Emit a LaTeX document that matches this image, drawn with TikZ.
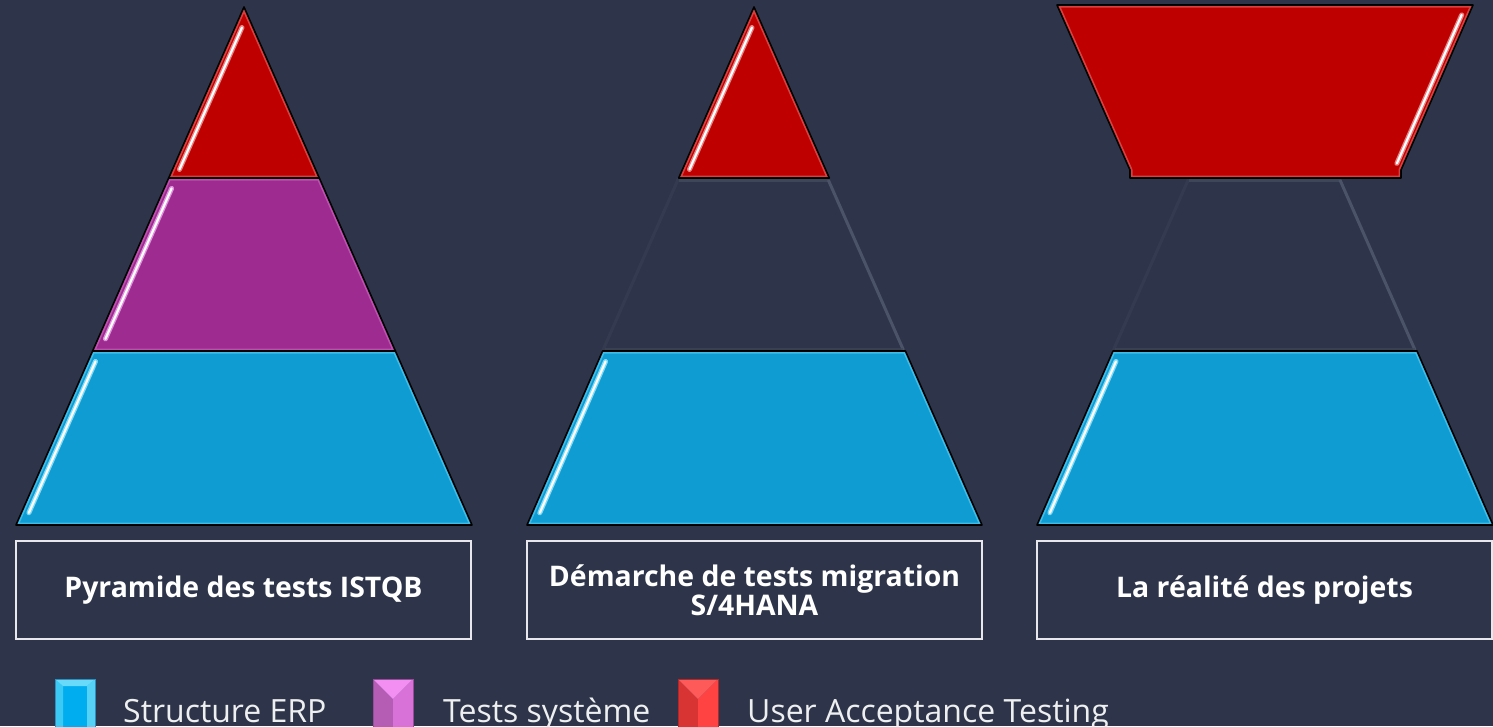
\documentclass[tikz,border=0pt]{standalone}
\usepackage{fontspec}
\setmainfont{Open Sans}
\usetikzlibrary{calc}

\definecolor{bg}{HTML}{2E354A}
\definecolor{erpfill}{HTML}{0E9CD3}
\definecolor{erprim}{HTML}{4CC4EE}
\definecolor{erpshine}{HTML}{9AEBFF}
\definecolor{sysfill}{HTML}{9E2B90}
\definecolor{sysrim}{HTML}{C65AB8}
\definecolor{sysshine}{HTML}{F0A8F0}
\definecolor{uatfill}{HTML}{BE0000}
\definecolor{uatrim}{HTML}{E25050}
\definecolor{uatshine}{HTML}{F5A0A0}
\definecolor{ghostedge}{HTML}{3E4659}
\definecolor{ghostlight}{HTML}{4B5368}
\definecolor{boxline}{HTML}{E8E8EC}
% legend block facets
\definecolor{bluemid}{HTML}{00AEEF}
\definecolor{blueleft}{HTML}{3CCAF4}
\definecolor{blueright}{HTML}{55D2F6}
\definecolor{bluetop}{HTML}{6ADAFA}
\definecolor{blueedge}{HTML}{2C8FC0}
\definecolor{purpleleft}{HTML}{B55CB5}
\definecolor{purpleright}{HTML}{D872D8}
\definecolor{purpletop}{HTML}{F38EF3}
\definecolor{purpleedge}{HTML}{9A4A9A}
\definecolor{redleft}{HTML}{D83434}
\definecolor{redright}{HTML}{FF4242}
\definecolor{redtop}{HTML}{FF5A5A}
\definecolor{rededge}{HTML}{B02828}

% glossy tier: fill, inner rim, dark outline
\newcommand\glosstier[3]{%
  \fill[#1] #3;
  \begin{scope}
    \clip #3;
    \draw[#2, line width=5pt, opacity=0.8, line join=round] #3;
  \end{scope}
  \draw[outline] #3;
}
% specular streak parallel to one edge: from, to, glow colour, x offset, start, end
\newcommand\shine[6]{%
  \draw[#3, line width=5pt, line cap=round, opacity=0.8]
    ($(#1)!#5!(#2)+(#4,0)$) -- ($(#1)!#6!(#2)+(#4,0)$);
  \draw[white, line width=2.2pt, line cap=round]
    ($(#1)!#5!(#2)+(#4,0)$) -- ($(#1)!#6!(#2)+(#4,0)$);
}

\tikzset{
  outline/.style={draw=black, line width=1.6pt, line join=round},
  ghost/.style={draw=ghostedge, line width=3pt},
  ghostbright/.style={draw=ghostlight, line width=3pt},
  labelbox/.style={draw=boxline, line width=1.6pt, minimum width=455pt,
    minimum height=98pt, inner sep=0pt, text=white, align=center,
    font=\bfseries\fontsize{28.4}{29}\selectfont},
  legendtext/.style={anchor=base west, inner sep=0pt, text=white!92!bg,
    font=\fontsize{32}{36}\selectfont},
}

\begin{document}
\begin{tikzpicture}[x=1pt,y=-1pt]
\useasboundingbox (0,0) rectangle (1493,726);
\clip (0,0) rectangle (1493,726);
\fill[bg] (0,0) rectangle (1493,726);

% ---------- pyramid 1 : ISTQB ----------
\coordinate (p1apex) at (244,7);
\coordinate (p1al) at (168.7,178); \coordinate (p1ar) at (319.3,178);
\coordinate (p1bl) at (92.6,351);  \coordinate (p1br) at (395.4,351);
\coordinate (p1cl) at (16,525);    \coordinate (p1cr) at (472,525);
\glosstier{erpfill}{erprim}{(p1bl) -- (p1cl) -- (p1cr) -- (p1br) -- cycle}
\glosstier{sysfill}{sysrim}{(p1al) -- (p1bl) -- (p1br) -- (p1ar) -- cycle}
\glosstier{uatfill}{uatrim}{(p1apex) -- (p1al) -- (p1ar) -- cycle}
\shine{p1bl}{p1cl}{erpshine}{7.5}{0.06}{0.93}
\shine{p1al}{p1bl}{sysshine}{7.5}{0.06}{0.93}
\shine{p1apex}{p1al}{uatshine}{7}{0.12}{0.95}

% ---------- pyramid 2 : S/4HANA ----------
\coordinate (p2apex) at (754,7);
\coordinate (p2al) at (678.7,178); \coordinate (p2ar) at (829.3,178);
\coordinate (p2bl) at (602.6,351); \coordinate (p2br) at (905.4,351);
\coordinate (p2cl) at (527,525);   \coordinate (p2cr) at (982,525);
\draw[ghost, opacity=0.4] (p2al) -- (p2bl);
\draw[ghost] ($(p2al)+(0,2)$) -- ($(p2ar)+(0,2)$);
\draw[ghostbright] ($(p2ar)+(-1,2)$) -- ($(p2br)+(-2,-1)$);
\draw[ghost, opacity=0.7] ($(p2bl)+(2,-2)$) -- ($(p2br)+(-2,-2)$);
\glosstier{erpfill}{erprim}{(p2bl) -- (p2cl) -- (p2cr) -- (p2br) -- cycle}
\glosstier{uatfill}{uatrim}{(p2apex) -- (p2al) -- (p2ar) -- cycle}
\shine{p2bl}{p2cl}{erpshine}{7.5}{0.06}{0.93}
\shine{p2apex}{p2al}{uatshine}{7}{0.12}{0.95}

% ---------- pyramid 3 : project reality ----------
\coordinate (p3tl) at (1057,5);  \coordinate (p3tr) at (1473,5);
\coordinate (p3sl) at (1130,170); \coordinate (p3sr) at (1401,170);
\coordinate (p3ul) at (1130,178); \coordinate (p3ur) at (1401,178);
\coordinate (p3al) at (1189,178); \coordinate (p3ar) at (1341,178);
\coordinate (p3bl) at (1113,351); \coordinate (p3br) at (1417,351);
\coordinate (p3cl) at (1037,525); \coordinate (p3cr) at (1493,525);
\draw[ghost, opacity=0.4] (p3al) -- (p3bl);
\draw[ghost] ($(p3al)+(0,2)$) -- ($(p3ar)+(0,2)$);
\draw[ghostbright] ($(p3ar)+(-1,2)$) -- ($(p3br)+(-2,-1)$);
\draw[ghost, opacity=0.7] ($(p3bl)+(2,-2)$) -- ($(p3br)+(-2,-2)$);
\glosstier{erpfill}{erprim}{(p3bl) -- (p3cl) -- (p3cr) -- (p3br) -- cycle}
\glosstier{uatfill}{uatrim}{(p3tl) -- (p3sl) -- (p3ul) -- (p3ur) -- (p3sr) -- (p3tr) -- cycle}
\shine{p3bl}{p3cl}{erpshine}{7.5}{0.06}{0.93}
\shine{p3tr}{p3sr}{uatshine}{-7}{0.06}{0.96}

% ---------- captions ----------
\node[labelbox] (cap1) at (243.5,590) {Pyramide des tests ISTQB};
\node[labelbox] (cap2) at (754.5,590) {Démarche de tests migration\\S/4HANA};
\node[labelbox] (cap3) at (1264.5,590) {La réalité des projets};

% ---------- legend ----------
% blue bevelled block
\fill[bluemid] (55,679) rectangle (95,740);
\fill[blueleft] (55,679) -- (63,686) -- (63,740) -- (55,740) -- cycle;
\fill[blueright] (95,679) -- (87,686) -- (87,740) -- (95,740) -- cycle;
\fill[bluetop] (55,679) -- (95,679) -- (87,686) -- (63,686) -- cycle;
\draw[blueedge, line width=0.8pt] (55,740) -- (55,679) -- (95,679) -- (95,740);
\node[legendtext] (leg1) at (123,722) {Structure ERP};
% purple bevelled block
\fill[purpleleft] (373,679) -- (393,699) -- (393,740) -- (373,740) -- cycle;
\fill[purpleright] (413,679) -- (393,699) -- (393,740) -- (413,740) -- cycle;
\fill[purpletop] (373,679) -- (413,679) -- (393,699) -- cycle;
\draw[purpleedge, line width=0.8pt] (373,740) -- (373,679) -- (413,679) -- (413,740);
\node[legendtext] (leg2) at (443,722) {Tests système};
% red bevelled block
\fill[redleft] (678,679) -- (698,699) -- (698,740) -- (678,740) -- cycle;
\fill[redright] (718,679) -- (698,699) -- (698,740) -- (718,740) -- cycle;
\fill[redtop] (678,679) -- (718,679) -- (698,699) -- cycle;
\draw[rededge, line width=0.8pt] (678,740) -- (678,679) -- (718,679) -- (718,740);
\node[legendtext] (leg3) at (747,722) {User Acceptance Testing};
\end{tikzpicture}
\end{document}
